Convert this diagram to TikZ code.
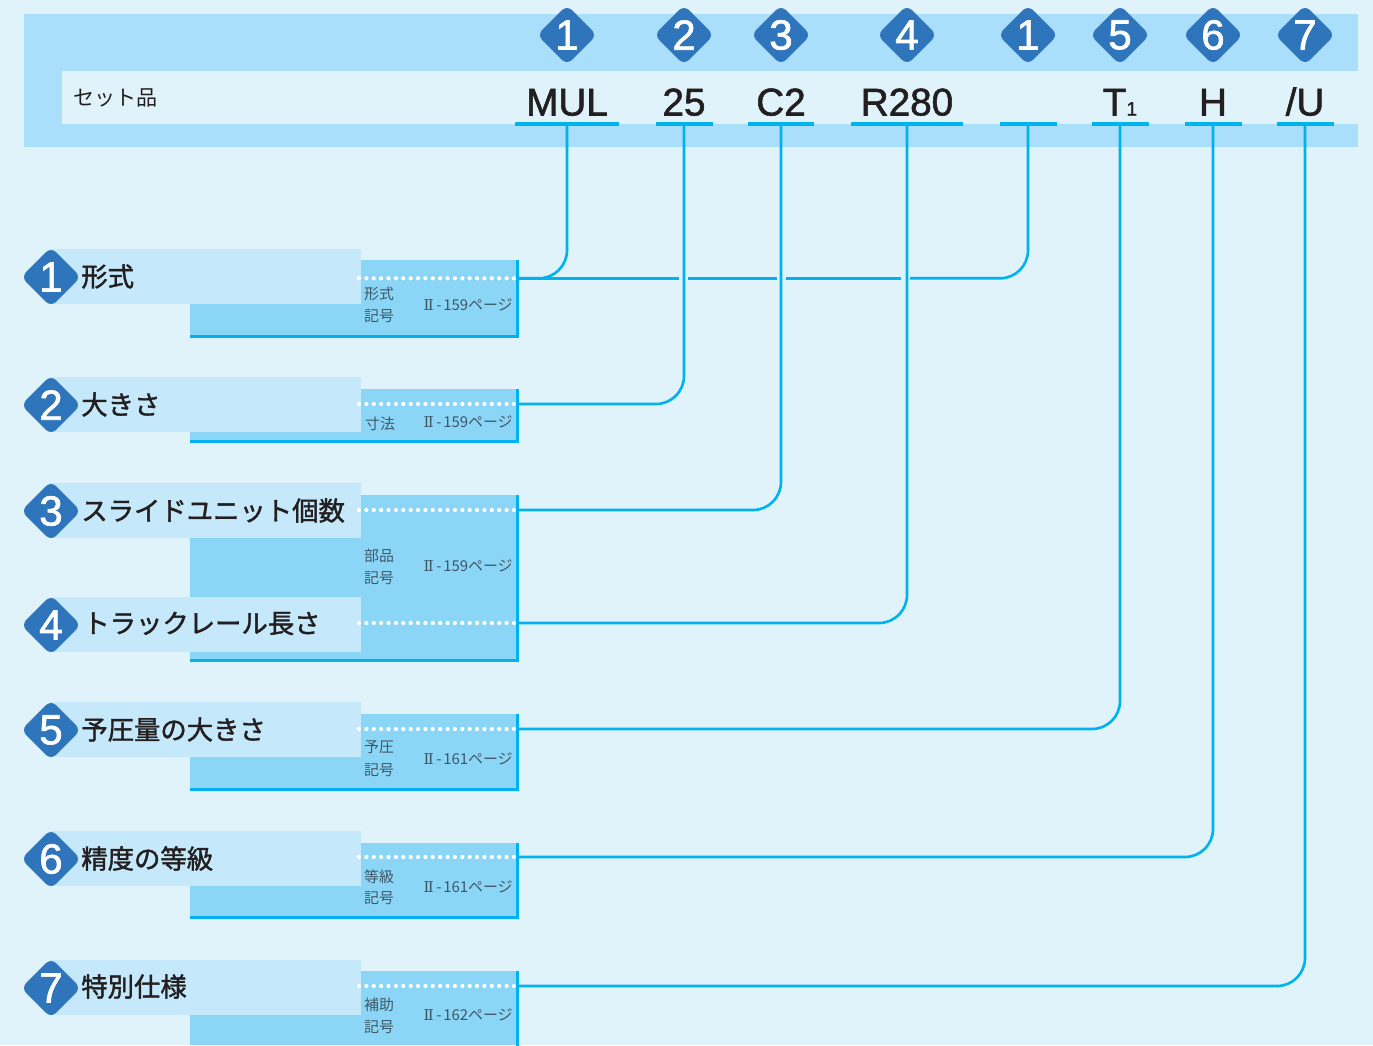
\documentclass[tikz,border=0pt]{standalone}
\usepackage{fontspec}
\setmainfont{Liberation Sans}
\newfontfamily\jpfont{Noto Sans CJK JP}
\newfontfamily\jpheavy[FakeBold=1.5]{Noto Sans CJK JP}
\newfontfamily\codefont[FakeBold=1.5]{Liberation Sans}
\newfontfamily\numfont{DejaVu Serif}
\usetikzlibrary{shapes.geometric,positioning}
\definecolor{paleback}{HTML}{E0F3FB}
\definecolor{bandblue}{HTML}{A9DFFA}
\definecolor{barblue}{HTML}{C5E9FA}
\definecolor{boxblue}{HTML}{8BD6F7}
\definecolor{linkblue}{HTML}{00B2EE}
\definecolor{badgeblue}{HTML}{2E75BB}
\definecolor{inktext}{HTML}{231F20}
\definecolor{smalltext}{HTML}{3F5866}
\newcommand{\sheetno}[1]{{\numfont Ⅱ}\kern1.5pt-\kern1pt #1ページ}
\tikzset{
  badge/.style={diamond,fill=badgeblue,text=white,rounded corners=4pt,inner sep=0pt,minimum width=1.2cm,minimum height=1.2cm,font=\codefont\fontsize{24}{24}\selectfont},
  code/.style={anchor=base,inner sep=0pt,text=inktext,font=\codefont\fontsize{22}{22}\selectfont},
  slot/.style={fill=linkblue,inner sep=0pt,minimum height=.07cm},
  namebar/.style={fill=barblue,anchor=west,inner sep=0pt,minimum width=6.22cm,minimum height=1.1cm},
  infobox/.style={fill=boxblue,anchor=north west,inner sep=0pt,minimum width=6.54cm},
  rowname/.style={anchor=west,inner sep=0pt,text=inktext,font=\jpheavy\fontsize{15}{15}\selectfont},
  small/.style={inner sep=0pt,text=smalltext,font=\jpfont\fontsize{8.5}{8.5}\selectfont},
  link/.style={draw=linkblue,line width=1.5pt,rounded corners=.56cm},
  edge/.style={draw=linkblue,line width=1.5pt},
  dots/.style={draw=white,line width=2.4pt,line cap=round,dash pattern=on 0pt off 4.2pt}
}
\begin{document}
\begin{tikzpicture}[x=.02cm,y=-.02cm]
    \useasboundingbox (0,0) rectangle (1373,1045);
    \fill[paleback] (0,0) rectangle (1373,1045);
    \fill[bandblue] (24,14) rectangle (1358,147);
    \fill[paleback] (62,71) rectangle (1358,124);

    \node[anchor=west,inner sep=0pt,text=inktext,font=\jpfont\fontsize{12}{12}\selectfont] (setname) at (73,97.5) {セット品};

    \node[badge] (topa) at (567,35) {1};
    \node[badge] (topb) at (684,35) {2};
    \node[badge] (topc) at (781,35) {3};
    \node[badge] (topd) at (907,35) {4};
    \node[badge] (tope) at (1028,35) {1};
    \node[badge] (topf) at (1120,35) {5};
    \node[badge] (topg) at (1213,35) {6};
    \node[badge] (toph) at (1305,35) {7};

    \node[code] (codea) at (567,115.5) {MUL};
    \node[code] (codeb) at (684,115.5) {25};
    \node[code] (codec) at (781,115.5) {C2};
    \node[code] (coded) at (907,115.5) {R280};
    \node[code] (codef) at (1120,115.5) {T{\fontsize{11}{11}\selectfont 1}};
    \node[code] (codeg) at (1213,115.5) {H};
    \node[code] (codeh) at (1305,115.5) {/U};

    \node[slot,minimum width=2.08cm] (slota) at (567,124) {};
    \node[slot,minimum width=1.14cm] (slotb) at (684,124) {};
    \node[slot,minimum width=1.32cm] (slotc) at (781,124) {};
    \node[slot,minimum width=2.26cm] (slotd) at (907,124) {};
    \node[slot,minimum width=1.14cm] (slote) at (1028,124) {};
    \node[slot,minimum width=1.14cm] (slotf) at (1120,124) {};
    \node[slot,minimum width=1.14cm] (slotg) at (1213,124) {};
    \node[slot,minimum width=1.14cm] (sloth) at (1305,124) {};

    % boxes behind the name bars
    \node[infobox,minimum height=1.51cm] (boxa) at (190,260) {};
    \node[infobox,minimum height=1.04cm] (boxb) at (190,389) {};
    \node[infobox,minimum height=3.3cm] (boxc) at (190,495) {};
    \node[infobox,minimum height=1.5cm] (boxe) at (190,714) {};
    \node[infobox,minimum height=1.48cm] (boxf) at (190,843) {};
    \node[infobox,minimum height=1.48cm] (boxg) at (190,971) {};

    \draw[edge] (boxa.north east) -- (boxa.south east) -- (boxa.south west);
    \draw[edge] (boxb.north east) -- (boxb.south east) -- (boxb.south west);
    \draw[edge] (boxc.north east) -- (boxc.south east) -- (boxc.south west);
    \draw[edge] (boxe.north east) -- (boxe.south east) -- (boxe.south west);
    \draw[edge] (boxf.north east) -- (boxf.south east) -- (boxf.south west);
    \draw[edge] (boxg.north east) -- (boxg.south east);

    \node[namebar] (bara) at (50,276.5) {};
    \node[namebar] (barb) at (50,404.5) {};
    \node[namebar] (barc) at (50,510.5) {};
    \node[namebar] (bard) at (50,624.5) {};
    \node[namebar] (bare) at (50,729.5) {};
    \node[namebar] (barf) at (50,858.5) {};
    \node[namebar] (barg) at (50,987.5) {};

    \node[badge] (rowa) at (51,277) {1};
    \node[badge] (rowb) at (51,405) {2};
    \node[badge] (rowc) at (51,511) {3};
    \node[badge] (rowd) at (51,625) {4};
    \node[badge] (rowe) at (51,730) {5};
    \node[badge] (rowf) at (51,859) {6};
    \node[badge] (rowg) at (51,988) {7};

    \node[rowname] (namea) at (81,276.5) {形式};
    \node[rowname] (nameb) at (81,404.5) {大きさ};
    \node[rowname] (namec) at (81,510.5) {スライドユニット個数};
    \node[rowname] (named) at (83,623.5) {トラックレール長さ};
    \node[rowname] (namee) at (81,729.5) {予圧量の大きさ};
    \node[rowname] (namef) at (81,858.5) {精度の等級};
    \node[rowname] (nameg) at (81,986.5) {特別仕様};

    \node[small] (kinda) at (379,293.5) {形式};
    \node[small] (marka) at (379,316.5) {記号};
    \node[small] (kindb) at (380,423.5) {寸法};
    \node[small] (kindc) at (379,555.5) {部品};
    \node[small] (markc) at (379,578.5) {記号};
    \node[small] (kinde) at (379,747.5) {予圧};
    \node[small] (marke) at (379,770.5) {記号};
    \node[small] (kindf) at (379,876.5) {等級};
    \node[small] (markf) at (379,898.5) {記号};
    \node[small] (kindg) at (379,1004.5) {補助};
    \node[small] (markg) at (379,1027.5) {記号};

    \node[small,anchor=east] (pagea) at (513,305) {\sheetno{159}};
    \node[small,anchor=east] (pageb) at (513,422) {\sheetno{159}};
    \node[small,anchor=east] (pagec) at (513,566) {\sheetno{159}};
    \node[small,anchor=east] (pagee) at (513,759) {\sheetno{161}};
    \node[small,anchor=east] (pagef) at (513,887) {\sheetno{161}};
    \node[small,anchor=east] (pageg) at (513,1015) {\sheetno{162}};

    \coordinate (porta) at (517,278.3);
    \coordinate (portb) at (517,404);
    \coordinate (portc) at (517,510);
    \coordinate (portd) at (517,623);
    \coordinate (porte) at (517,729);
    \coordinate (portf) at (517,857);
    \coordinate (portg) at (517,986);

    \draw[dots] (359,278.3) -- (porta);
    \draw[dots] (359,404) -- (portb);
    \draw[dots] (359,510) -- (portc);
    \draw[dots] (359,623) -- (portd);
    \draw[dots] (359,729) -- (porte);
    \draw[dots] (359,857) -- (portf);
    \draw[dots] (359,986) -- (portg);

    % first one runs to both marks, cut where the others cross it
    \draw[link] (porta) -| (slota.south);
    \draw[link] (porta) -- (679,278.3);
    \draw[link] (688,278.3) -- (777,278.3);
    \draw[link] (786,278.3) -- (901,278.3);
    \coordinate (resta) at (910,278.3);
    \draw[link] (resta) -| (slote.south);

    \draw[link] (portb) -| (slotb.south);
    \draw[link] (portc) -| (slotc.south);
    \draw[link] (portd) -| (slotd.south);
    \draw[link] (porte) -| (slotf.south);
    \draw[link] (portf) -| (slotg.south);
    \draw[link] (portg) -| (sloth.south);
\end{tikzpicture}
\end{document}
